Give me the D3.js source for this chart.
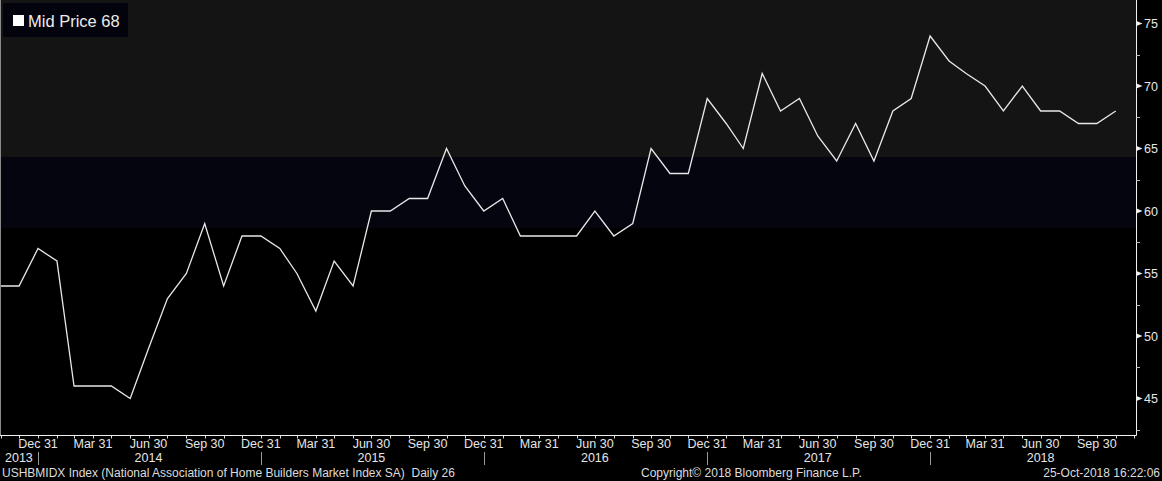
<!DOCTYPE html>
<html>
<head>
<meta charset="utf-8">
<script src="https://cdn.jsdelivr.net/npm/d3@7"></script>
<style>
html,body{margin:0;padding:0;background:#000;}
svg{display:block;font-family:"Liberation Sans",Arial,sans-serif;}
</style>
</head>
<body>
<svg id="chart" width="1162" height="481"></svg>
<script>
// ---- data (NAHB Market Index SA, monthly, plotted at month end) ----
const months = [
 "2013-10-31","2013-11-30","2013-12-31",
 "2014-01-31","2014-02-28","2014-03-31","2014-04-30","2014-05-31","2014-06-30",
 "2014-07-31","2014-08-31","2014-09-30","2014-10-31","2014-11-30","2014-12-31",
 "2015-01-31","2015-02-28","2015-03-31","2015-04-30","2015-05-31","2015-06-30",
 "2015-07-31","2015-08-31","2015-09-30","2015-10-31","2015-11-30","2015-12-31",
 "2016-01-31","2016-02-29","2016-03-31","2016-04-30","2016-05-31","2016-06-30",
 "2016-07-31","2016-08-31","2016-09-30","2016-10-31","2016-11-30","2016-12-31",
 "2017-01-31","2017-02-28","2017-03-31","2017-04-30","2017-05-31","2017-06-30",
 "2017-07-31","2017-08-31","2017-09-30","2017-10-31","2017-11-30","2017-12-31",
 "2018-01-31","2018-02-28","2018-03-31","2018-04-30","2018-05-31","2018-06-30",
 "2018-07-31","2018-08-31","2018-09-30","2018-10-31"
];
const midPrice = [
 54,54,57,
 56,46,46,46,45,49,53,55,59,54,58,58,
 57,55,52,56,54,60,60,61,61,65,62,60,
 61,58,58,58,58,60,58,59,65,63,63,69,
 67,65,71,68,69,66,64,67,64,68,69,74,
 72,71,70,68,70,68,68,67,67,68
];
const yTicks = [45,50,55,60,65,70,75];
const yMinorTicks = [42.5,47.5,52.5,57.5,62.5,67.5,72.5];
const bandEdges = [58.64, 64.32];
const yearLabels = ["2014","2015","2016","2017","2018"];
const legendText = "Mid Price 68";
const footerLeft = "USHBMIDX Index (National Association of Home Builders Market Index SA)  Daily 26";
const footerMid = "Copyright\u00A9 2018 Bloomberg Finance L.P.";
const footerRight = "25-Oct-2018 16:22:06";

const parse = d3.timeParse("%Y-%m-%d");
const data = months.map((m,i)=>({date:parse(m), value:midPrice[i]}));

const svg = d3.select("#chart");
const plotR = 1136.5, plotB = 435.5;

const x = d3.scaleTime()
  .domain([new Date(2013,9,29,18), new Date(2018,11,4)])
  .range([0, plotR]);
const y = d3.scaleLinear()
  .domain([42.04, 76.88])
  .range([plotB, 0]);

// background bands
svg.append("rect").attr("x",0).attr("y",0).attr("width",1162).attr("height",481).attr("fill","#000");
svg.append("rect").attr("x",0).attr("y",0).attr("width",plotR)
  .attr("height",y(bandEdges[1])).attr("fill","#141414");
svg.append("rect").attr("x",0).attr("y",y(bandEdges[1])).attr("width",plotR)
  .attr("height",y(bandEdges[0])-y(bandEdges[1])).attr("fill","#05050f");

// line
const line = d3.line().x(d=>x(d.date)).y(d=>y(d.value));
svg.append("path").datum(data).attr("d",line)
  .attr("fill","none").attr("stroke","#e8e8e8").attr("stroke-width",1.3)
  .attr("stroke-linejoin","miter");

// frame
svg.append("line").attr("x1",0.5).attr("x2",0.5).attr("y1",0).attr("y2",plotB).attr("stroke","#8a8a8a");
svg.append("line").attr("x1",0).attr("x2",plotR).attr("y1",plotB).attr("y2",plotB).attr("stroke","#f0f0f0");
svg.append("line").attr("x1",plotR).attr("x2",plotR).attr("y1",0).attr("y2",plotB).attr("stroke","#f0f0f0");

// right axis
const gy = svg.append("g");
gy.selectAll("path.tri").data(yTicks).join("path")
  .attr("d",v=>`M${plotR},${y(v)-2.5}L${plotR+6},${y(v)}L${plotR},${y(v)+2.5}Z`)
  .attr("fill","#f0f0f0");
gy.selectAll("line.minor").data(yMinorTicks).join("line")
  .attr("x1",plotR).attr("x2",plotR+3.5).attr("y1",v=>Math.round(y(v))+0.5).attr("y2",v=>Math.round(y(v))+0.5)
  .attr("stroke","#bbbbbb");
gy.selectAll("text").data(yTicks).join("text")
  .attr("x",plotR+7.5).attr("y",v=>y(v)).attr("dy","0.36em")
  .attr("fill","#e6e6e6").attr("font-size","12.5px").text(d=>d);

// bottom axis ticks (month ends)
const monthEnds = d3.timeMonth.range(new Date(2013,10,1), new Date(2018,11,2))
  .map(d=>d3.timeDay.offset(d,-1));
svg.append("g").selectAll("line").data(monthEnds).join("line")
  .attr("x1",d=>Math.round(x(d))+0.5).attr("x2",d=>Math.round(x(d))+0.5)
  .attr("y1",plotB).attr("y2",plotB+3).attr("stroke","#dddddd");

const fmt = d3.timeFormat("%b %d");
const quarterEnds = monthEnds.filter(d=>d.getMonth()%3===2);
svg.append("g").selectAll("text").data(quarterEnds).join("text")
  .attr("x",d=>x(d)).attr("y",448).attr("text-anchor","middle")
  .attr("fill","#e6e6e6").attr("font-size","12.5px").text(d=>fmt(d));

// year separators and labels
const decEnds = monthEnds.filter(d=>d.getMonth()===11 && d.getFullYear()<2018);
svg.append("g").selectAll("line").data(decEnds).join("line")
  .attr("x1",d=>Math.round(x(d))+0.5).attr("x2",d=>Math.round(x(d))+0.5)
  .attr("y1",452).attr("y2",465).attr("stroke","#9a9a9a");
svg.append("text").attr("x",5).attr("y",462).attr("fill","#e6e6e6").attr("font-size","12.5px").text("2013");
svg.append("g").selectAll("text").data(yearLabels).join("text")
  .attr("x",d=>x(new Date(+d,5,30))).attr("y",462).attr("text-anchor","middle")
  .attr("fill","#e6e6e6").attr("font-size","12.5px").text(d=>d);

// footer
svg.append("text").attr("x",2).attr("y",477).attr("fill","#dcdcdc").attr("font-size","12px")
  .attr("xml:space","preserve").style("white-space","pre").text(footerLeft);
svg.append("text").attr("x",641).attr("y",477).attr("fill","#dcdcdc").attr("font-size","12px").text(footerMid);
svg.append("text").attr("x",1160).attr("y",477).attr("text-anchor","end").attr("fill","#dcdcdc").attr("font-size","12px").text(footerRight);

// legend
const lg = svg.append("g");
lg.append("rect").attr("x",3).attr("y",3).attr("width",125).attr("height",34).attr("rx",2)
  .attr("fill","#03030d");
lg.append("rect").attr("x",13).attr("y",15).attr("width",11).attr("height",11).attr("fill","#ffffff");
lg.append("text").attr("x",28).attr("y",27).attr("fill","#ececec").attr("font-size","16.5px").text(legendText);
</script>
</body>
</html>
